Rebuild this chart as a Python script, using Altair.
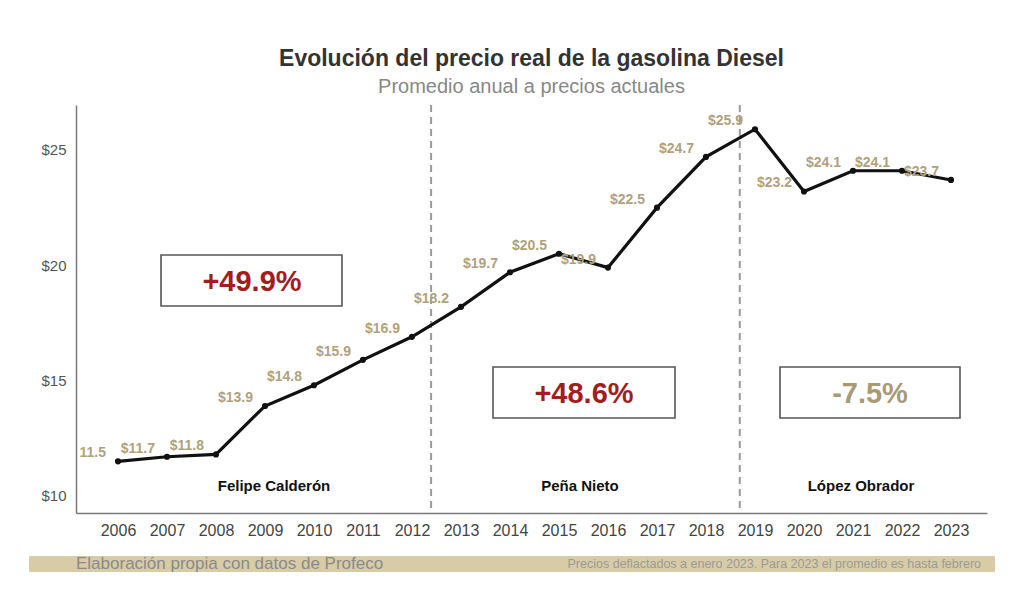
import altair as alt
import pandas as pd

# ---- data ----
years = list(range(2006, 2024))
prices = [11.5, 11.7, 11.8, 13.9, 14.8, 15.9, 16.9, 18.2, 19.7, 20.5,
          19.9, 22.5, 24.7, 25.9, 23.2, 24.1, 24.1, 23.7]
price_labels = ["11.5", "$11.7", "$11.8", "$13.9", "$14.8", "$15.9", "$16.9",
                "$18.2", "$19.7", "$20.5", "$19.9", "$22.5", "$24.7", "$25.9",
                "$23.2", "$24.1", "$24.1", "$23.7"]
term_boundaries = [2012.39, 2018.69]
presidents = ["Felipe Calderón", "Peña Nieto", "López Obrador"]
changes = ["+49.9%", "+48.6%", "-7.5%"]
y_ticks = [10, 15, 20, 25]

title = "Evolución del precio real de la gasolina Diesel"
subtitle = "Promedio anual a precios actuales"
source_note = "Elaboración propia con datos de Profeco"
deflation_note = "Precios deflactados a enero 2023. Para 2023 el promedio es hasta febrero"

df = pd.DataFrame({"year": years, "price": prices, "label": price_labels})
bounds = pd.DataFrame({"b": term_boundaries})

W, H = 911, 408
FONT = "Liberation Sans"
TAN = "#b1a17b"
RED = "#a11d1f"

xs = alt.Scale(domain=[2005.143, 2023.735], nice=False, zero=False)
ys = alt.Scale(domain=[9.26, 26.95], nice=False, zero=False)

x_enc = alt.X("year:Q", scale=xs, axis=alt.Axis(
    values=years, format="d", title=None, grid=False, ticks=False,
    domainColor="#7a7a7a", domainWidth=1.5, labelFontSize=16, labelColor="#444",
    labelFont=FONT, labelPadding=9, labelFlush=False))
y_enc = alt.Y("price:Q", scale=ys, axis=alt.Axis(
    values=y_ticks, labelExpr="'$' + datum.value", title=None, grid=False,
    ticks=False, domainColor="#7a7a7a", domainWidth=1.5, labelFontSize=15,
    labelColor="#555", labelFont=FONT, labelPadding=10))

base = alt.Chart(df)

rules = alt.Chart(bounds).mark_rule(
    color="#9a9a9a", strokeDash=[7, 5], strokeWidth=2
).encode(x=alt.X("b:Q", scale=xs), y=alt.value(0), y2=alt.value(H))

line = base.mark_line(color="#111", strokeWidth=3.2).encode(x=x_enc, y=y_enc)
pts = base.mark_circle(color="#111", size=38, opacity=1).encode(x="year:Q", y="price:Q")
lbls = base.mark_text(
    color=TAN, font=FONT, fontWeight="bold", fontSize=14, dx=-12, dy=-8,
    align="right", baseline="middle"
).encode(x="year:Q", y="price:Q", text="label:N")


def one(t):
    return alt.Chart(pd.DataFrame({"t": [t]}))


def box(x1, x2, y1, y2):
    return one("").mark_rect(fill="white", stroke="#555", strokeWidth=1.6).encode(
        x=alt.value(x1), x2=alt.value(x2), y=alt.value(y1), y2=alt.value(y2))


def label(t, x, y, color, size, weight="bold", align="center"):
    return one(t).mark_text(
        color=color, fontSize=size, fontWeight=weight, font=FONT,
        align=align, baseline="middle"
    ).encode(text="t:N", x=alt.value(x), y=alt.value(y))


annotations = [
    box(85, 266, 150, 201), label(changes[0], 176, 177, RED, 29),
    box(417, 599, 262, 313), label(changes[1], 508, 289, RED, 29),
    box(704, 884, 262, 313), label(changes[2], 794, 289, "#a99a76", 29),
    label(presidents[0], 198, 381, "#111", 15),
    label(presidents[1], 504, 381, "#111", 15),
    label(presidents[2], 785, 381, "#111", 15),
    one("").mark_rect(fill="#d8cca7").encode(
        x=alt.value(-47), x2=alt.value(919), y=alt.value(451), y2=alt.value(467)),
    label(source_note, 0, 459, "#8a8a8a", 17, weight="normal", align="left"),
    label(deflation_note, 905, 459, "#9a9a9a", 12.5, weight="normal", align="right"),
]

chart = alt.layer(rules, line, pts, lbls, *annotations).properties(
    width=W, height=H,
    title=alt.TitleParams(
        text=title, subtitle=subtitle, anchor="middle", font=FONT,
        fontSize=23, fontWeight="bold", color="#333", subtitleFont=FONT,
        subtitleFontSize=20, subtitleColor="#888", subtitlePadding=6, offset=7),
    padding={"left": 76, "top": 105, "right": 37, "bottom": 78},
    autosize=alt.AutoSizeParams(type="none"),
    background="white",
).configure_view(stroke=None)

chart.save("out.html", embed_options={"renderer": "svg", "actions": False})
